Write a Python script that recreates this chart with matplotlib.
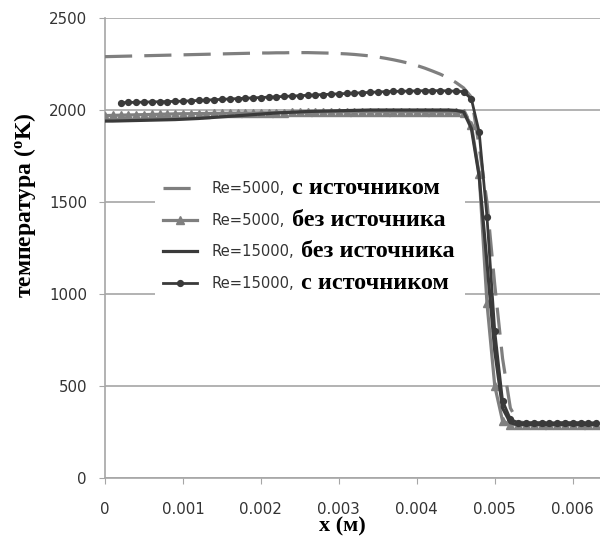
import numpy as np
import matplotlib
matplotlib.use("Agg")
import matplotlib.pyplot as plt
from matplotlib.patches import Rectangle

plt.rcParams['mathtext.fontset'] = 'custom'
plt.rcParams['mathtext.rm'] = 'Liberation Serif:bold'
plt.rcParams['mathtext.bf'] = 'Liberation Serif:bold'
plt.rcParams['mathtext.it'] = 'Liberation Serif:bold'

# x grid, m (step 0.0001)
x = np.round(np.arange(0, 0.00635, 0.0001), 5)

# Re=5000, with source (dashed)
t5_src = [2290, 2291, 2292, 2293, 2294, 2295, 2296, 2297, 2298, 2299,
          2300, 2301, 2302, 2303, 2304, 2305, 2306, 2307, 2308, 2309,
          2310, 2310, 2311, 2311, 2312, 2312, 2312, 2311, 2310, 2309,
          2307, 2305, 2302, 2298, 2294, 2288, 2281, 2273, 2264, 2254,
          2242, 2228, 2212, 2195, 2175, 2150, 2120, 2070, 1800, 1500,
          1050, 650, 380, 305, 300, 300, 300, 300, 300, 300,
          300, 300, 300, 300]

# Re=5000, without source (triangles)
t5_nosrc = [1970, 1971, 1972, 1973, 1974, 1975, 1976, 1977, 1978, 1979,
            1980, 1980, 1981, 1981, 1982, 1982, 1983, 1983, 1984, 1984,
            1985, 1985, 1986, 1986, 1987, 1987, 1988, 1988, 1989, 1989,
            1990, 1990, 1990, 1990, 1990, 1990, 1990, 1990, 1990, 1990,
            1990, 1990, 1990, 1990, 1989, 1988, 1985, 1920, 1650, 950,
            500, 310, 290, 290, 290, 290, 290, 290, 290, 290,
            290, 290, 290, 290]

# Re=15000, without source (solid)
t15_nosrc = [1940, 1940, 1941, 1942, 1943, 1944, 1945, 1946, 1947, 1948,
             1950, 1952, 1954, 1957, 1960, 1963, 1966, 1969, 1972, 1975,
             1978, 1981, 1984, 1986, 1988, 1990, 1992, 1993, 1994, 1995,
             1996, 1997, 1998, 1999, 2000, 2000, 2000, 2000, 2000, 2000,
             2000, 2000, 2000, 2000, 2000, 1998, 1990, 1900, 1640, 1170,
             690, 380, 300, 290, 290, 290, 290, 290, 290, 290,
             290, 290, 290, 290]

# Re=15000, with source (dots), starts at x=0.0002
t15_src = [2040, 2041, 2042, 2043, 2044, 2045, 2046, 2047, 2048, 2050,
           2052, 2054, 2056, 2058, 2060, 2062, 2064, 2066, 2068, 2070,
           2072, 2074, 2076, 2078, 2080, 2082, 2084, 2086, 2088, 2090,
           2092, 2094, 2096, 2098, 2100, 2101, 2102, 2103, 2104, 2105,
           2105, 2105, 2104, 2102, 2100, 2060, 1880, 1420, 800, 420,
           320, 300, 300, 300, 300, 300, 300, 300, 300, 300,
           300, 300]

fig = plt.figure(figsize=(6.0, 5.38), dpi=100)
ax = fig.add_axes([0.175, 0.1115, 0.825, 0.855])

ax.plot(x, t5_src, color='#7f7f7f', lw=2.3, ls=(0, (8.5, 3.8)), zorder=3,
        label='Re=5000,')
ax.plot(x, t5_nosrc, color='#7f7f7f', lw=2.3, marker='^', ms=5.5, zorder=3,
        label='Re=5000,')
ax.plot(x, t15_nosrc, color='#3a3a3a', lw=2.3, zorder=4,
        label='Re=15000,')
ax.plot(x[2:], t15_src, color='#3a3a3a', lw=2.0, marker='o', ms=4.2, zorder=4,
        label='Re=15000,')

ax.set_xlim(0, 0.00635)
ax.set_ylim(0, 2500)
ax.set_xticks([0, 0.001, 0.002, 0.003, 0.004, 0.005, 0.006])
ax.set_xticklabels(['0', '0.001', '0.002', '0.003', '0.004', '0.005', '0.006'])
ax.set_yticks([0, 500, 1000, 1500, 2000, 2500])

ax.set_axisbelow(True)
ax.grid(axis='y', color='#a6a6a6', lw=1.2)
for s in ['top', 'right']:
    ax.spines[s].set_visible(False)
for s in ['left', 'bottom']:
    ax.spines[s].set_color('#a6a6a6')
    ax.spines[s].set_linewidth(1.2)
ax.tick_params(axis='x', length=4, color='#a6a6a6', pad=13, labelsize=10.8,
               labelcolor='#333333')
ax.tick_params(axis='y', length=4, color='#a6a6a6', pad=9, labelsize=10.8,
               labelcolor='#333333')

ax.set_ylabel('температура ($^{o}$K)', fontfamily='Liberation Serif',
              fontweight='bold', fontsize=17)
ax.yaxis.set_label_coords(-0.135, 0.593)
ax.set_xlabel('x (м)', fontfamily='Liberation Serif', fontweight='bold',
              fontsize=16)
ax.xaxis.set_label_coords(0.48, -0.083)

# white area behind legend
ax.add_patch(Rectangle((0.101, 0.387), 0.626, 0.287, transform=ax.transAxes,
                       facecolor='white', edgecolor='none', zorder=1))

leg = ax.legend(loc='upper left', bbox_to_anchor=(0.117, 0.645),
                borderaxespad=0, borderpad=0, frameon=False, fontsize=10.6,
                handlelength=2.3, handletextpad=1.0, labelspacing=1.12)
for t in leg.get_texts():
    t.set_color('#333333')

bold = ['с источником', 'без источника', 'без источника', 'с источником']
fig.canvas.draw()
for t, b in zip(leg.get_texts(), bold):
    bb = t.get_window_extent()
    fig.text((bb.x1 + 7) / fig.bbox.width, (bb.y0 + bb.y1) / 2 / fig.bbox.height,
             b, fontfamily='Liberation Serif', fontweight='bold', fontsize=17.5,
             va='center', ha='left', color='black')

fig.savefig('out.png', dpi=100)
